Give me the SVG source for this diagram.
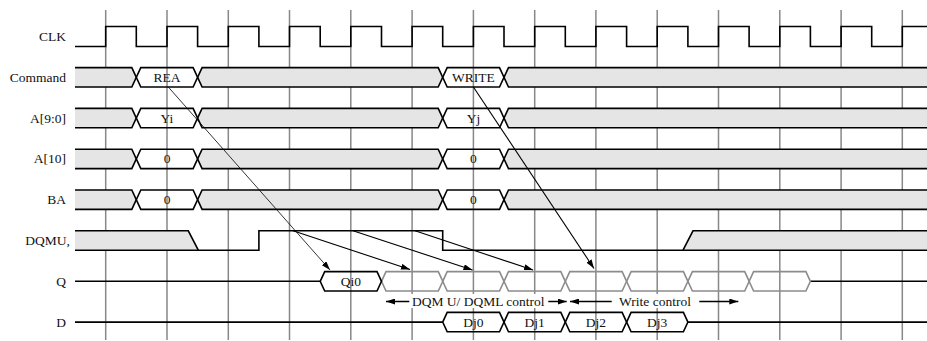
<svg xmlns="http://www.w3.org/2000/svg" xmlns:xlink="http://www.w3.org/1999/xlink" width="927" height="341" viewBox="0 0 927 341">
<style>
.bg{fill:#ffffff}
.grid{stroke:#888888;stroke-width:1.5;fill:none}
.sig{stroke:#000000;stroke-width:1.6;fill:none}
.fill{fill:#e5e5e5;stroke:none}
.hexb{stroke:#000000;stroke-width:1.6;fill:none}
.hexg{stroke:#8c8c8c;stroke-width:1.6;fill:none}
.lbl{font-family:"Liberation Serif","Times New Roman",serif;font-size:13.5px;fill:#111111}
.lr{text-anchor:end}
.lc{text-anchor:middle}
.arr{stroke:#000000;fill:none;marker-end:url(#ah)}
.thin{stroke-width:0.8}
.med{stroke-width:1.1}
.bold{stroke-width:1.5}
</style>
<defs>
<marker id="ah" markerUnits="userSpaceOnUse" markerWidth="9" markerHeight="6" refX="9" refY="3" viewBox="0 0 9 6" orient="auto">
<path d="M0,0 L9,3 L0,6 z" fill="#000000"/>
</marker>
<g id="bus">
<polygon class="fill" points="75,-9.7 131.8,-9.7 136.3,0 131.8,9.7 75,9.7"/>
<polygon class="fill" points="197.6,0 202.1,-9.7 438.2,-9.7 442.7,0 438.2,9.7 202.1,9.7"/>
<polygon class="fill" points="504,0 508.5,-9.7 927,-9.7 927,9.7 508.5,9.7"/>
<path class="sig" d="M75,-9.7 H131.8 L140.8,9.7 H193.1 L202.1,-9.7 H438.2 L447.2,9.7 H499.5 L508.5,-9.7 H927"/>
<path class="sig" d="M75,9.7 H131.8 L140.8,-9.7 H193.1 L202.1,9.7 H438.2 L447.2,-9.7 H499.5 L508.5,9.7 H927"/>
</g>
<path id="hex" d="M0,0 L4.5,-9.7 H56.8 L61.3,0 L56.8,9.7 H4.5 Z"/>
</defs>
<rect class="bg" x="0" y="0" width="927" height="341"/>
<g id="grid" class="grid">
<path d="M105.7,10 V340 M167,10 V340 M228.3,10 V340 M289.5,10 V340 M350.8,10 V340 M412.1,10 V340 M473.4,10 V340 M534.7,10 V340 M595.9,10 V340 M657.2,10 V340 M718.5,10 V340 M779.8,10 V340 M841.1,10 V340 M902.3,10 V340"/>
</g>
<g id="clk">
<text class="lbl lr" x="66" y="41">CLK</text>
<path class="sig" d="M75,46.5 H105.7 V26.5 H136.3 V46.5 H167 V26.5 H197.6 V46.5 H228.3 V26.5 H258.9 V46.5 H289.5 V26.5 H320.2 V46.5 H350.8 V26.5 H381.5 V46.5 H412.1 V26.5 H442.7 V46.5 H473.4 V26.5 H504 V46.5 H534.7 V26.5 H565.3 V46.5 H595.9 V26.5 H626.6 V46.5 H657.2 V26.5 H687.9 V46.5 H718.5 V26.5 H749.1 V46.5 H779.8 V26.5 H810.4 V46.5 H841.1 V26.5 H871.7 V46.5 H902.3 V26.5 H927"/>
</g>
<g id="command" transform="translate(0,77.3)">
<text class="lbl lr" x="66" y="4.5">Command</text>
<use xlink:href="#bus" href="#bus"/>
<text class="lbl lc" x="167" y="4.5">REA</text>
<text class="lbl lc" x="473.4" y="4.5">WRITE</text>
</g>
<g id="addr" transform="translate(0,118.1)">
<text class="lbl lr" x="66" y="4.5">A[9:0]</text>
<use xlink:href="#bus" href="#bus"/>
<text class="lbl lc" x="167" y="4.5">Yi</text>
<text class="lbl lc" x="473.4" y="4.5">Yj</text>
</g>
<g id="a10" transform="translate(0,158.9)">
<text class="lbl lr" x="66" y="4.5">A[10]</text>
<use xlink:href="#bus" href="#bus"/>
<text class="lbl lc" x="167" y="4.5">0</text>
<text class="lbl lc" x="473.4" y="4.5">0</text>
</g>
<g id="ba" transform="translate(0,199.7)">
<text class="lbl lr" x="66" y="4.5">BA</text>
<use xlink:href="#bus" href="#bus"/>
<text class="lbl lc" x="167" y="4.5">0</text>
<text class="lbl lc" x="473.4" y="4.5">0</text>
</g>
<g id="dqmu">
<text class="lbl lr" x="70" y="245">DQMU,</text>
<polygon class="fill" points="75,230.8 188.3,230.8 198.3,250.2 75,250.2"/>
<polygon class="fill" points="683,250.2 693,230.8 927,230.8 927,250.2"/>
<path class="sig" d="M75,230.8 H188.3 L198.3,250.2 H258.9 V230.8 H442.7 V250.2 H683 L693,230.8 H927"/>
<path class="sig" d="M75,250.2 H198.3 M683,250.2 H927"/>
</g>
<g id="q" transform="translate(0,281.3)">
<text class="lbl lr" x="66" y="4.5">Q</text>
<path class="sig" d="M75,0 H320.2 M810.4,0 H927"/>
<use xlink:href="#hex" href="#hex" class="hexg" x="381.5"/>
<use xlink:href="#hex" href="#hex" class="hexg" x="442.7"/>
<use xlink:href="#hex" href="#hex" class="hexg" x="504"/>
<use xlink:href="#hex" href="#hex" class="hexg" x="565.3"/>
<use xlink:href="#hex" href="#hex" class="hexg" x="626.6"/>
<use xlink:href="#hex" href="#hex" class="hexg" x="687.9"/>
<use xlink:href="#hex" href="#hex" class="hexg" x="749.1"/>
<use xlink:href="#hex" href="#hex" class="hexb" x="320.2"/>
<text class="lbl lc" x="350.8" y="4.5">Qi0</text>
</g>
<g id="d" transform="translate(0,322.1)">
<text class="lbl lr" x="66" y="4.5">D</text>
<path class="sig" d="M75,0 H442.7 M687.9,0 H927"/>
<use xlink:href="#hex" href="#hex" class="hexb" x="442.7"/>
<use xlink:href="#hex" href="#hex" class="hexb" x="504"/>
<use xlink:href="#hex" href="#hex" class="hexb" x="565.3"/>
<use xlink:href="#hex" href="#hex" class="hexb" x="626.6"/>
<text class="lbl lc" x="473.4" y="4.5">Dj0</text>
<text class="lbl lc" x="534.7" y="4.5">Dj1</text>
<text class="lbl lc" x="595.9" y="4.5">Dj2</text>
<text class="lbl lc" x="657.2" y="4.5">Dj3</text>
</g>
<g id="controls">
<rect class="bg" x="411" y="294" width="135" height="14"/>
<rect class="bg" x="617" y="294" width="76" height="14"/>
<text class="lbl lc" x="478.3" y="305.5">DQM U/ DQML control</text>
<text class="lbl lc" x="655" y="305.5">Write control</text>
</g>
<g id="connectors">
<path class="arr thin" d="M168.3,87 L330,270"/>
<path class="arr med" d="M293,230.8 L410,269.5"/>
<path class="arr med" d="M353,230.8 L472.5,270"/>
<path class="arr med" d="M415,230.8 L533,270"/>
<path class="arr med" d="M473.4,87 L594,268.5"/>
<path class="arr bold" d="M409.3,301.5 H386"/>
<path class="arr bold" d="M548.3,301.5 H566.7"/>
<path class="arr bold" d="M611.7,301.5 H570"/>
<path class="arr bold" d="M699.3,301.5 H738.3"/>
</g>
</svg>
